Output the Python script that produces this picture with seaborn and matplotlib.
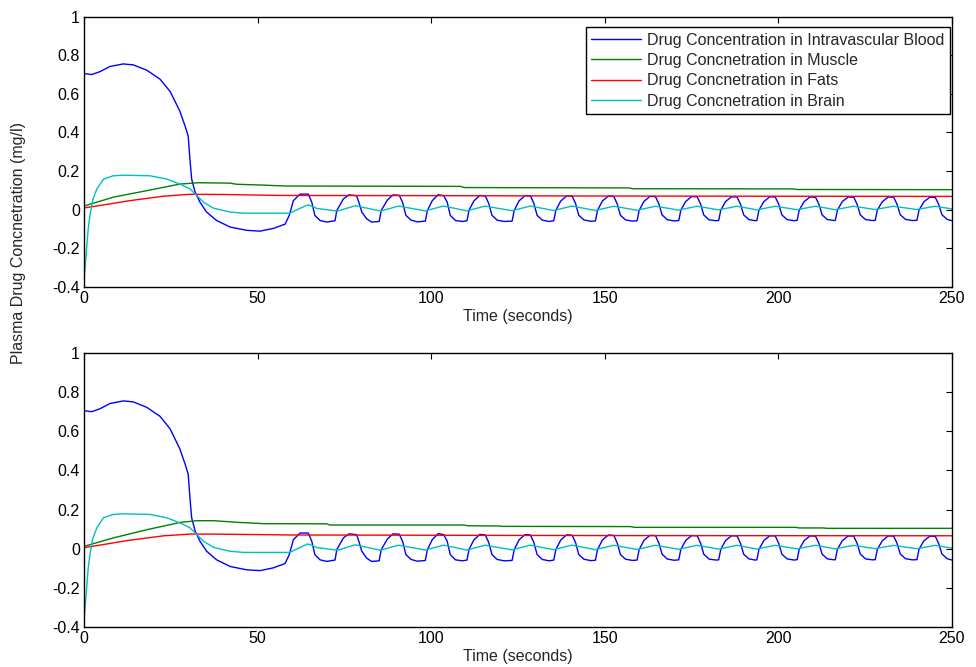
import numpy as np
import pandas as pd
import matplotlib
matplotlib.use("Agg")
import matplotlib.pyplot as plt
from matplotlib.ticker import FormatStrFormatter
import seaborn as sns

# ---- data ----
blood_t = [
    0, 2.2, 4.6, 7.5, 11.3, 14.2, 18.1, 21.9, 24.8, 27.6, 29.1, 30.0, 30.5, 31.0, 32.0,
    33.4, 35.3, 38.2, 42.1, 46.9, 50.7, 54.5, 57.9,
    59.1, 60.3, 62.2, 64.6, 65.6, 66.5, 68.0, 69.9,
    72.3, 72.8, 74.7, 76.3, 78.5, 79.3, 80.0, 81.4, 82.8,
    85.0, 85.6, 87.4, 89.0, 90.8, 91.8, 92.7, 94.2, 96.0,
    98.3, 98.9, 100.3, 102.0, 103.6, 104.6, 105.5, 107.0, 109.0,
    110.3, 110.9, 112.3, 114.0, 115.6, 116.6, 117.5, 119.0, 121.0,
    123.3, 123.9, 125.3, 127.0, 128.6, 129.6, 130.5, 132.0, 134.0,
    135.3, 135.9, 137.3, 139.0, 140.6, 141.6, 142.5, 144.0, 146.0,
    147.3, 147.9, 149.3, 151.0, 152.6, 153.6, 154.5, 156.0, 158.0,
    159.3, 159.9, 161.3, 163.0, 164.6, 165.6, 166.5, 168.0, 170.0,
    171.3, 171.9, 173.3, 175.0, 176.6, 177.6, 178.5, 180.0, 182.0,
    182.8, 183.4, 184.8, 186.5, 188.1, 189.1, 190.0, 191.5, 193.3,
    193.8, 194.4, 195.8, 197.5, 199.1, 200.1, 201.0, 202.5, 204.5,
    205.4, 206.0, 207.4, 209.1, 210.7, 211.7, 212.6, 214.1, 216.1,
    216.4, 217.0, 218.4, 220.1, 221.7, 222.7, 223.6, 225.1, 227.1,
    227.9, 228.5, 229.9, 231.6, 233.2, 234.2, 235.1, 236.6, 238.6,
    239.9, 240.5, 241.9, 243.6, 245.2, 246.2, 247.1, 248.6, 250.0,
]
blood_c = [
    0.705, 0.700, 0.715, 0.742, 0.755, 0.750, 0.722, 0.676, 0.612, 0.510, 0.433, 0.381, 0.261, 0.158, 0.090,
    0.038, -0.013, -0.057, -0.091, -0.108, -0.112, -0.098, -0.076,
    -0.031, 0.046, 0.080, 0.080, 0.038, -0.031, -0.057, -0.065,
    -0.058, -0.005, 0.055, 0.076, 0.072, 0.030, -0.013, -0.048, -0.065,
    -0.062, -0.005, 0.050, 0.076, 0.074, 0.035, -0.030, -0.055, -0.064,
    -0.060, -0.005, 0.046, 0.077, 0.072, 0.038, -0.031, -0.057, -0.062,
    -0.058, -0.003, 0.045, 0.073, 0.070, 0.030, -0.030, -0.055, -0.062,
    -0.060, -0.005, 0.045, 0.072, 0.070, 0.030, -0.030, -0.055, -0.062,
    -0.058, -0.004, 0.044, 0.071, 0.069, 0.030, -0.030, -0.054, -0.061,
    -0.059, -0.004, 0.044, 0.070, 0.068, 0.028, -0.030, -0.054, -0.060,
    -0.058, -0.004, 0.043, 0.068, 0.067, 0.028, -0.028, -0.053, -0.059,
    -0.057, -0.003, 0.042, 0.067, 0.066, 0.028, -0.028, -0.053, -0.058,
    -0.057, -0.003, 0.042, 0.066, 0.065, 0.027, -0.028, -0.052, -0.058,
    -0.057, -0.003, 0.041, 0.066, 0.065, 0.027, -0.028, -0.052, -0.058,
    -0.056, -0.003, 0.041, 0.065, 0.064, 0.026, -0.028, -0.052, -0.057,
    -0.056, -0.003, 0.041, 0.065, 0.064, 0.026, -0.028, -0.052, -0.057,
    -0.056, -0.003, 0.040, 0.065, 0.064, 0.026, -0.027, -0.051, -0.057,
    -0.056, -0.003, 0.040, 0.064, 0.063, 0.025, -0.027, -0.051, -0.058,
]

brain_t = [
    0, 0.4, 0.8, 1.2, 1.7, 2.5, 3.7, 5.6, 8.4, 11.3, 19.0, 23.8, 27.6, 30.5, 32.5,
    34.4, 37.3, 42.0, 45.9, 56.5,
    59.2, 64.4, 65.6, 67.0,
    73.0, 78.2, 79.4,
    85.4, 90.6, 91.8,
    98.3, 103.5, 104.7,
    110.3, 115.5, 116.7,
    123.3, 128.5, 129.7,
    135.3, 140.5, 141.7,
    147.3, 152.5, 153.7,
    159.3, 164.5, 165.7,
    171.3, 176.5, 177.7,
    182.8, 188.0, 189.2,
    193.8, 199.0, 200.2,
    205.4, 210.6, 211.8,
    216.4, 221.6, 222.8,
    227.9, 233.1, 234.3,
    239.9, 245.1, 246.3, 250.0,
]
brain_c = [
    -0.36, -0.28, -0.19, -0.10, -0.03, 0.05, 0.107, 0.158, 0.175, 0.178, 0.175, 0.158, 0.132, 0.107, 0.072,
    0.038, 0.007, -0.013, -0.019, -0.019,
    -0.019, 0.024, 0.018, 0.006,
    -0.008, 0.020, 0.015,
    -0.008, 0.018, 0.014,
    -0.007, 0.018, 0.014,
    -0.007, 0.018, 0.014,
    -0.006, 0.018, 0.014,
    -0.005, 0.018, 0.014,
    -0.005, 0.017, 0.014,
    -0.004, 0.017, 0.014,
    -0.003, 0.017, 0.014,
    -0.002, 0.017, 0.014,
    -0.002, 0.017, 0.014,
    -0.001, 0.017, 0.014,
    -0.001, 0.017, 0.014,
    0.000, 0.017, 0.014,
    0.000, 0.017, 0.014, 0.003,
]

muscle_t = [0, 8.4, 18.1, 27.6, 33.0, 42.0, 44.0, 51.0, 58.0, 108.5, 109.5, 157.0, 158.0, 204.0, 205.5, 250.0]
muscle_c = [0.018, 0.064, 0.098, 0.132, 0.139, 0.137, 0.131, 0.127, 0.122, 0.120, 0.114, 0.112, 0.108, 0.107, 0.104, 0.103]

fats_t = [0, 13.2, 22.8, 30.5, 40.0, 56.5, 100.0, 150.0, 200.0, 250.0]
fats_c = [0.008, 0.046, 0.069, 0.079, 0.078, 0.073, 0.072, 0.070, 0.069, 0.068]

# second run (lower panel): muscle and fats differ a little
muscle2_t = [0, 8.4, 18.1, 27.6, 32.5, 37.3, 44.9, 51.6, 69.9, 70.8, 109.5, 110.5, 119.5, 120.5,
             157.5, 158.5, 205.0, 206.0, 213.0, 214.0, 250.0]
muscle2_c = [0.012, 0.055, 0.097, 0.134, 0.143, 0.143, 0.134, 0.128, 0.127, 0.121, 0.121, 0.117, 0.116, 0.114,
             0.113, 0.109, 0.109, 0.106, 0.106, 0.104, 0.104]

fats2_t = [0, 13.0, 23.0, 31.0, 40.0, 60.0, 150.0, 250.0]
fats2_c = [0.005, 0.043, 0.066, 0.075, 0.074, 0.070, 0.067, 0.066]

labels = [
    "Drug Concentration in Intravascular Blood",
    "Drug Concnetration in Muscle",
    "Drug Concnetration in Fats",
    "Drug Concnetration in Brain",
]
colors = ["#0000ff", "#008000", "#ff0000", "#00bfbf"]

x_ticks = [0, 50, 100, 150, 200, 250]
y_ticks = [-0.4, -0.2, 0, 0.2, 0.4, 0.6, 0.8, 1]

FS = 11.5

sns.set_style("white")
plt.rcParams["font.family"] = ["Liberation Sans", "DejaVu Sans"]
plt.rcParams["font.size"] = FS

fig = plt.figure(figsize=(9.76, 6.67), dpi=100)
ax1 = fig.add_axes([0.0861, 0.5702, 0.8893, 0.4048])
ax2 = fig.add_axes([0.0861, 0.0600, 0.8893, 0.4108])


def draw_panel(ax, series, legend):
    for (t, c), lab, col in zip(series, labels, colors):
        sns.lineplot(x=t, y=c, ax=ax, color=col, lw=1.0, label=lab if legend else None,
                     sort=False, estimator=None)
    ax.set_xlim(0, 250)
    ax.set_ylim(-0.4, 1)
    ax.set_xticks(x_ticks)
    ax.set_yticks(y_ticks)
    ax.yaxis.set_major_formatter(FormatStrFormatter("%g"))
    ax.tick_params(direction="in", top=True, right=True, length=4, width=0.8,
                   labelsize=FS, colors="black", pad=3)
    for sp in ax.spines.values():
        sp.set_visible(True)
        sp.set_color("black")
        sp.set_linewidth(1.0)
    ax.set_xlabel("Time (seconds)", fontsize=FS, labelpad=2)
    ax.set_ylabel("")


draw_panel(ax1, [(blood_t, blood_c), (muscle_t, muscle_c), (fats_t, fats_c), (brain_t, brain_c)], True)
draw_panel(ax2, [(blood_t, blood_c), (muscle2_t, muscle2_c), (fats2_t, fats2_c), (brain_t, brain_c)], False)

leg = ax1.legend(loc="upper right", bbox_to_anchor=(0.9977, 0.962), borderaxespad=0,
                 fancybox=False, framealpha=1, edgecolor="black", fontsize=FS,
                 handlelength=3.1, handletextpad=0.4, labelspacing=0.34, borderpad=0.35)
leg.get_frame().set_linewidth(1.0)

fig.text(0.019, 0.636, "Plasma Drug Concnetration (mg/l)", rotation=90,
         ha="center", va="center", fontsize=FS)

fig.savefig("out.png", dpi=100)
